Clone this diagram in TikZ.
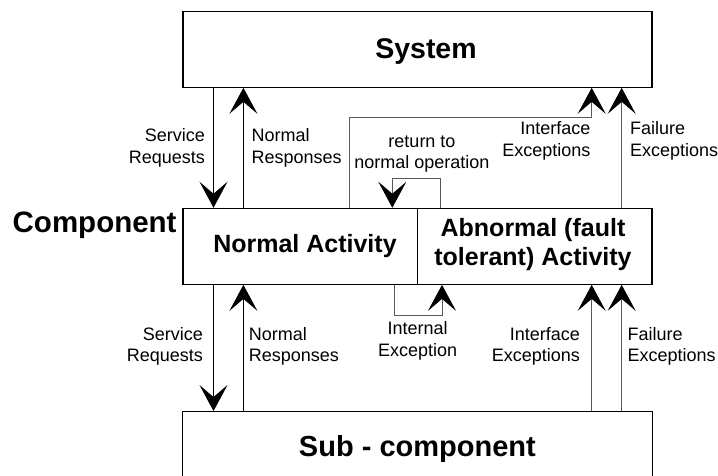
\documentclass[tikz,border=0pt]{standalone}
\usepackage{fontspec}
\setmainfont{Liberation Sans}
\usetikzlibrary{arrows.meta}
\tikzset{
  box/.style={draw=black, line width=1.1pt, inner sep=0pt},
  lbl/.style={inner sep=0pt, font=\fontsize{18}{21.5}\selectfont},
  big/.style={inner sep=0pt, font=\fontsize{25}{28.5}\selectfont\bfseries, align=center},
  conn/.style={line width=0.9pt, draw=black},
  gconn/.style={line width=0.9pt, draw=black!65},
  arr/.style={-{Stealth[length=26pt, width=28pt, inset=12pt, color=black]}},
}
\begin{document}
\begin{tikzpicture}[x=1pt,y=-1pt]
\useasboundingbox (0,0) rectangle (718,475);
\clip (0,0) rectangle (718,475);
\fill[white] (0,0) rectangle (718,475);

% boxes
\node[box, minimum width=469pt, minimum height=75.5pt] (sys) at (417.5,49.5) {};
\node[box, minimum width=234.7pt, minimum height=76pt] (na) at (300.35,246.3) {};
\node[box, minimum width=234.3pt, minimum height=76pt] (ab) at (534.85,246.3) {};
\node[box, minimum width=469.5pt, minimum height=120pt] (sub) at (417.5,471.6) {};

% box texts
\node[big, font=\fontsize{28.5}{32}\selectfont\bfseries] (systxt) at (426,51.5) {System};
\node[big] (natxt) at (305,246.5) {Normal Activity};
\node[big] (abtxt) at (533,244.5) {Abnormal (fault\\tolerant) Activity};
\node[big, font=\fontsize{29}{32}\selectfont\bfseries] (subtxt) at (417.4,448.5) {Sub - component};
\node[big, font=\fontsize{29.5}{32}\selectfont\bfseries, anchor=west] (comp) at (12.5,225) {Component};

% x positions of connectors
\coordinate (xs) at (213.5,0);
\coordinate (xn) at (243.4,0);
\coordinate (xi) at (349.3,0);
\coordinate (xr1) at (392.3,0);
\coordinate (xr2) at (440,0);
\coordinate (xe1) at (394.8,0);
\coordinate (xe2) at (442,0);
\coordinate (xif) at (591.7,0);
\coordinate (xf) at (621.7,0);
\coordinate (yi) at (0,117.3);
\coordinate (yr) at (0,178.3);
\coordinate (ye) at (0,315.5);

% upper connectors
\draw[conn, arr] (sys.south -| xs) -- (na.north -| xs);
\draw[conn, arr] (na.north -| xn) -- (sys.south -| xn);
\draw[gconn, arr] (na.north -| xi) -- (xi |- yi) -- (xif |- yi) -- (sys.south -| xif);
\draw[gconn, arr] (ab.north -| xf) -- (sys.south -| xf);
\draw[gconn, arr] (ab.north -| xr2) -- (xr2 |- yr) -- (xr1 |- yr) -- (na.north -| xr1);

% lower connectors
\draw[conn, arr] (na.south -| xs) -- (sub.north -| xs);
\draw[conn, arr] (sub.north -| xn) -- (na.south -| xn);
\draw[gconn, arr] (na.south -| xe1) -- (xe1 |- ye) -- (xe2 |- ye) -- (ab.south -| xe2);
\draw[gconn, arr] (sub.north -| xif) -- (ab.south -| xif);
\draw[gconn, arr] (sub.north -| xf) -- (ab.south -| xf);

% labels upper
\node[lbl, align=right, anchor=east] (srv1) at (205,148) {Service\\Requests};
\node[lbl, align=left, anchor=west] (nr1) at (251.5,148) {Normal\\Responses};
\node[lbl, align=center] (ret) at (422,154) {return to\\normal operation};
\node[lbl, align=right, anchor=east] (ie1) at (590.5,141) {Interface\\Exceptions};
\node[lbl, align=left, anchor=west] (fe1) at (630,141) {Failure\\Exceptions};

% labels lower
\node[lbl, align=right, anchor=east] (srv2) at (203,346.5) {Service\\Requests};
\node[lbl, align=left, anchor=west] (nr2) at (248.7,346.5) {Normal\\Responses};
\node[lbl, align=center] (iexc) at (417.6,341) {Internal\\Exception};
\node[lbl, align=right, anchor=east] (ie2) at (580,346.5) {Interface\\Exceptions};
\node[lbl, align=left, anchor=west] (fe2) at (627.3,346.5) {Failure\\Exceptions};
\end{tikzpicture}
\end{document}
